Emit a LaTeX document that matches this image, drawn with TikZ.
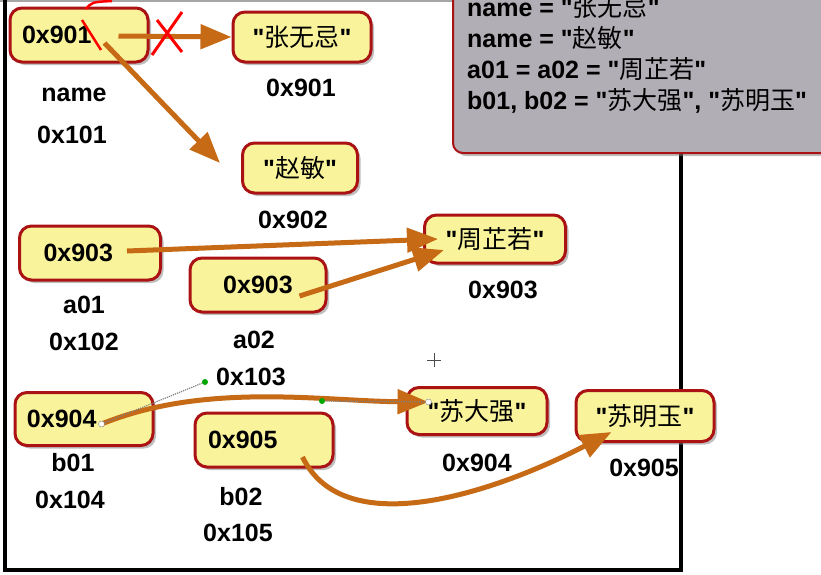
\documentclass[tikz,border=0pt]{standalone}
\usepackage{fontspec}
\setmainfont{Liberation Sans}[Ligatures=TeXOff]
\newfontfamily\cjk{Noto Sans CJK SC}
\usetikzlibrary{arrows.meta,calc,shadows}
\definecolor{boxyellow}{RGB}{249,244,155}
\definecolor{boxred}{RGB}{170,18,20}
\definecolor{ptrorange}{RGB}{198,106,22}
\definecolor{notegray}{RGB}{178,174,181}
\newcommand{\hz}[1]{{\cjk\mdseries #1}}
\newcommand{\lblfont}{\fontsize{25}{30}\selectfont\bfseries}
\tikzset{
	membox/.style={draw=boxred, line width=3pt, fill=boxyellow, rounded corners=12pt, minimum width=138pt, minimum height=52pt, font=\lblfont, drop shadow={shadow xshift=3pt, shadow yshift=-3pt, fill=black!50, opacity=.5}},
	lab/.style={font=\lblfont, inner sep=0pt},
	note/.style={font=\lblfont, anchor=base west, inner sep=0pt},
	notebox/.style={draw=boxred, line width=2pt, fill=notegray, rounded corners=10pt, drop shadow={shadow xshift=3pt, shadow yshift=-3pt, fill=black!50, opacity=.5}},
	ptr/.style={ptrorange, line width=5pt, -{Triangle[length=31pt,width=24pt]}},
	cross/.style={red, line width=3pt},
	handle/.style={gray, densely dotted, line width=1.2pt},
}
\begin{document}
\begin{tikzpicture}[x=1pt,y=-1pt]
		\useasboundingbox (0,0) rectangle (821,574);
		\clip (0,0) rectangle (821,574);
		\fill[white] (0,0) rectangle (821,574);
		\draw[gray!70, line width=2pt] (0,1) -- (821,1);
		\draw[line width=4pt] (5,0) -- (5,570) -- (681,570) -- (681,150);
		\draw[notebox] (453,-20) rectangle (850,153);
		\node[note] (n1) at (467,16) {name = "\hz{张无忌}"};
		\node[note] (n2) at (467,47) {name = "\hz{赵敏}"};
		\node[note] (n3) at (467,78) {a01 = a02 = "\hz{周芷若}"};
		\node[note] (n4) at (467,109) {b01, b02 = "\hz{苏大强}", "\hz{苏明玉}"};
		\node[membox, minimum height=54pt, text width=114pt, align=left, inner xsep=12pt] (p901) at (79,35) {0x901};
		\node[membox, minimum height=50pt] (zwj) at (302,37) {"\hz{张无忌}"};
		\node[membox, minimum width=115pt, minimum height=50pt] (zm) at (300,168) {"\hz{赵敏}"};
		\node[membox, minimum width=141pt, minimum height=54pt, text width=93pt, align=left, inner xsep=24pt] (p903a) at (90,253) {0x903};
		\node[membox, minimum width=136pt, minimum height=54pt] (p903b) at (258,285) {0x903};
		\node[membox, minimum width=141pt, minimum height=48pt] (zzr) at (495,239) {"\hz{周芷若}"};
		\node[membox, minimum height=53pt, text width=114pt, align=left, inner xsep=12pt] (p904) at (84,419) {0x904};
		\node[membox, minimum height=54pt, text width=112pt, align=left, inner xsep=13pt] (p905) at (264,440) {0x905};
		\node[membox, minimum width=140pt, minimum height=47pt] (sdq) at (477,411) {"\hz{苏大强}"};
		\node[membox, minimum height=51pt] (smy) at (645,416) {"\hz{苏明玉}"};
		\node[lab] (l901) at (301,88) {0x901};
		\node[lab] (name) at (74,95) {name};
		\node[lab] (l101) at (72,135) {0x101};
		\node[lab] (l902) at (293,220) {0x902};
		\node[lab] (a01) at (84,305) {a01};
		\node[lab] (l102) at (84,342) {0x102};
		\node[lab] (l903) at (503,290) {0x903};
		\node[lab] (a02) at (254,340) {a02};
		\node[lab] (l103) at (251,377) {0x103};
		\node[lab] (b01) at (73,463) {b01};
		\node[lab] (l104) at (70,500) {0x104};
		\node[lab] (b02) at (241,497) {b02};
		\node[lab] (l105) at (238,533) {0x105};
		\node[lab] (l904) at (477,463) {0x904};
		\node[lab] (l905) at (644,468) {0x905};
		\coordinate (s1) at ($(p901.east)+(-31,1)$);
		\coordinate (s2) at ($(p901.east)+(-45,8)$);
		\coordinate (s3) at ($(p903a.east)+(-35,-2)$);
		\coordinate (s4) at ($(p903b.east)+(-28,11)$);
		\coordinate (s5) at ($(p904.east)+(-53,5)$);
		\coordinate (s6) at ($(p905.east)+(-32,17)$);
		\coordinate (e5) at ($(sdq.west)+(23,-9)$);
		\coordinate (h1) at (205,382);
		\coordinate (h2) at (322,401);
		\draw[ptr] (s1) -- (zwj.west);
		\draw[ptr] (s2) -- ($(zm.west)+(-21,-5)$);
		\draw[ptr] (s3) -- ($(zzr.west)+(15,0)$);
		\draw[ptr] (s4) -- ($(zzr.west)+(21,11)$);
		\draw[ptr] (s5) .. controls (h1) and (h2) .. (e5);
		\draw[ptr] (s6) .. controls (345,545) and (500,490) .. ($(smy.west)+(37,16)$);
		\draw[cross] (157,20) -- (182,52) (152,55) -- (182,12);
		\draw[cross, line width=2.5pt] (82,20) -- (101,50);
		\draw[cross, line width=2.5pt] (86,9) .. controls (92,2) .. (112,1);
		\draw[handle] (s5) -- (h1) (h2) -- (e5);
		\fill[green!65!black] (h1) circle (3pt) (h2) circle (3pt);
		\filldraw[fill=white, draw=gray] (s5) circle (3pt) (e5) circle (3pt);
		\draw[black!70, line width=1pt] (427,360) -- (441,360) (434,353) -- (434,367);
\end{tikzpicture}
\end{document}
